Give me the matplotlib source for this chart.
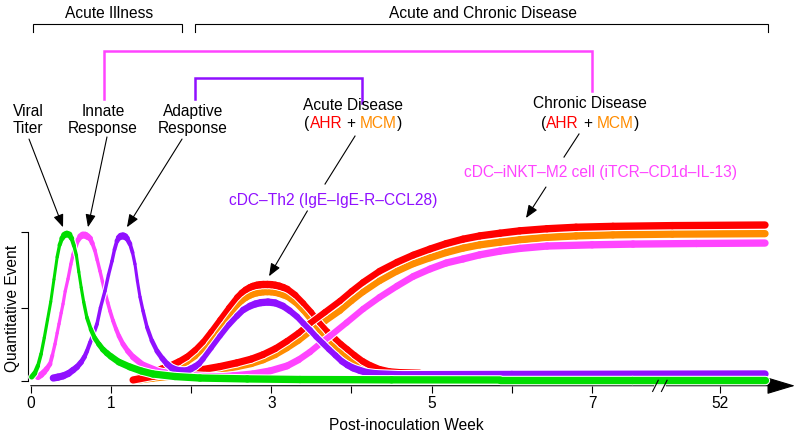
import numpy as np
import matplotlib
matplotlib.use('Agg')
import matplotlib.pyplot as plt
from matplotlib.collections import LineCollection

plt.rcParams['font.family'] = ['Liberation Sans', 'DejaVu Sans']
FS = 11.2

# axis positions (weeks, with 52 placed after the break)
tick_pos = [0, 1, 2, 3, 4, 5, 6, 7, 8.6]
tick_lab = ['0', '1', '', '3', '', '5', '', '7', '52']
ytick_pos = [0, 0.486, 1]
break_pos = [7.79, 7.90]

# curves
green_x = [0.012, 0.05, 0.09, 0.13, 0.17, 0.21, 0.25, 0.29, 0.33, 0.36, 0.39, 0.42, 0.45,
           0.48, 0.51, 0.54, 0.57, 0.60, 0.63, 0.66, 0.70, 0.75, 0.80, 0.85, 0.90, 0.95,
           1.0, 1.1, 1.238, 1.38, 1.525, 1.8, 2.111, 2.7, 3.358, 4.5, 5.852, 7.5, 9.156]
green_y = [0.025, 0.05, 0.1, 0.18, 0.29, 0.41, 0.53, 0.68, 0.83, 0.91, 0.955, 0.978, 0.985,
           0.98, 0.955, 0.905, 0.84, 0.73, 0.625, 0.53, 0.425, 0.345, 0.285, 0.245, 0.21,
           0.185, 0.163, 0.125, 0.092, 0.065, 0.045, 0.028, 0.018, 0.012, 0.008, 0.006,
           0.005, 0.005, 0.005]

magenta_x = [0.091, 0.13, 0.166, 0.2, 0.241, 0.27, 0.303, 0.33, 0.353, 0.38, 0.403, 0.43,
             0.465, 0.5, 0.527, 0.56, 0.59, 0.62, 0.65, 0.68, 0.71, 0.74, 0.77, 0.80, 0.83,
             0.864, 0.895, 0.926, 0.96, 0.989, 1.025, 1.064, 1.1, 1.151, 1.21, 1.276, 1.4,
             1.612, 1.862, 2.174, 2.4, 2.524, 2.772, 2.98, 3.196, 3.34, 3.483, 3.6, 3.733,
             3.94, 4.145, 4.35, 4.567, 4.77, 4.98, 5.18, 5.39, 5.6, 5.852, 6.1, 6.438, 7.0,
             7.51, 8.3, 9.156]
magenta_y = [0.025, 0.04, 0.058, 0.08, 0.112, 0.17, 0.246, 0.32, 0.381, 0.455, 0.515, 0.60,
             0.683, 0.78, 0.844, 0.90, 0.944, 0.968, 0.978, 0.977, 0.967, 0.955, 0.92, 0.875,
             0.81, 0.736, 0.665, 0.595, 0.525, 0.468, 0.405, 0.347, 0.30, 0.246, 0.20, 0.159,
             0.105, 0.058, 0.038, 0.028, 0.027, 0.032, 0.045, 0.065, 0.099, 0.14, 0.193,
             0.245, 0.30, 0.39, 0.481, 0.56, 0.635, 0.70, 0.75, 0.79, 0.817, 0.845, 0.87,
             0.888, 0.904, 0.912, 0.917, 0.921, 0.924]

purple_x = [0.282, 0.34, 0.403, 0.47, 0.53, 0.577, 0.63, 0.67, 0.702, 0.74, 0.78, 0.827,
            0.87, 0.926, 0.97, 1.014, 1.045, 1.076, 1.1, 1.125, 1.151, 1.175, 1.2, 1.238,
            1.27, 1.3, 1.33, 1.363, 1.4, 1.45, 1.51, 1.575, 1.64, 1.7, 1.76, 1.825, 1.89,
            1.949, 2.0, 2.05, 2.1, 2.148, 2.25, 2.36, 2.47, 2.572, 2.65, 2.734, 2.8, 2.87,
            2.959, 3.05, 3.146, 3.23, 3.321, 3.4, 3.483, 3.56, 3.645, 3.72, 3.8, 3.88, 3.95,
            4.02, 4.1, 4.19, 4.3, 4.6, 6.0, 9.156]
purple_y = [0.018, 0.024, 0.032, 0.048, 0.072, 0.092, 0.125, 0.16, 0.199, 0.255, 0.31,
            0.381, 0.49, 0.602, 0.71, 0.803, 0.88, 0.938, 0.96, 0.97, 0.972, 0.968, 0.955,
            0.918, 0.86, 0.783, 0.67, 0.562, 0.47, 0.36, 0.27, 0.199, 0.15, 0.112, 0.085,
            0.07, 0.065, 0.067, 0.08, 0.095, 0.115, 0.146, 0.22, 0.30, 0.375, 0.434, 0.475,
            0.501, 0.515, 0.524, 0.528, 0.522, 0.501, 0.47, 0.43, 0.385, 0.34, 0.295, 0.25,
            0.21, 0.17, 0.13, 0.105, 0.085, 0.07, 0.055, 0.047, 0.04, 0.042, 0.045]

acute_x = [1.277, 1.4, 1.525, 1.63, 1.737, 1.85, 1.95, 2.05, 2.149, 2.25, 2.36, 2.47, 2.573,
           2.63, 2.68, 2.73, 2.77, 2.82, 2.86, 2.9, 2.95, 3.0, 3.05, 3.1, 3.15, 3.2, 3.3, 3.4,
           3.5, 3.6, 3.7, 3.8, 3.87, 3.95, 4.04, 4.14, 4.24, 4.35, 4.47, 4.6, 4.85]
red_acute_y = [0.005, 0.03, 0.058, 0.078, 0.099, 0.128, 0.16, 0.205, 0.26, 0.33, 0.41, 0.49,
               0.56, 0.59, 0.61, 0.625, 0.634, 0.641, 0.644, 0.646, 0.646, 0.645, 0.641,
               0.635, 0.626, 0.615, 0.575, 0.52, 0.46, 0.39, 0.33, 0.28, 0.245, 0.21, 0.17,
               0.13, 0.1, 0.075, 0.06, 0.054, 0.05]
orange_acute_y = [0.0, 0.02, 0.04, 0.058, 0.075, 0.1, 0.128, 0.165, 0.215, 0.28, 0.355,
                  0.435, 0.505, 0.535, 0.556, 0.572, 0.582, 0.59, 0.594, 0.597, 0.598, 0.597,
                  0.593, 0.586, 0.576, 0.565, 0.525, 0.47, 0.405, 0.34, 0.28, 0.23, 0.195,
                  0.165, 0.125, 0.09, 0.068, 0.055, 0.05, 0.047, 0.046]

chronic_x = [1.277, 1.525, 1.737, 1.95, 2.149, 2.36, 2.573, 2.75, 2.897, 3.05, 3.196, 3.34,
             3.483, 3.67, 3.857, 4.0, 4.143, 4.35, 4.567, 4.77, 4.979, 5.18, 5.39, 5.6,
             5.852, 6.1, 6.438, 6.8, 7.26, 8.0, 9.156]
red_chronic_y = [0.005, 0.03, 0.048, 0.062, 0.075, 0.095, 0.12, 0.145, 0.175, 0.215, 0.265,
                 0.32, 0.385, 0.46, 0.535, 0.60, 0.66, 0.735, 0.795, 0.843, 0.884, 0.92,
                 0.95, 0.972, 0.99, 1.006, 1.02, 1.03, 1.036, 1.041, 1.045]
orange_chronic_y = [0.0, 0.018, 0.03, 0.045, 0.058, 0.075, 0.095, 0.115, 0.14, 0.175, 0.22,
                    0.27, 0.33, 0.40, 0.47, 0.535, 0.595, 0.67, 0.735, 0.785, 0.825, 0.86,
                    0.89, 0.912, 0.93, 0.946, 0.962, 0.972, 0.979, 0.984, 0.987]

GREEN = '#00dd00'
RED = '#ff0000'
ORANGE = '#ff8c00'
MAGENTA = '#ff44ff'
PURPLE = '#9010ff'

fig = plt.figure(figsize=(8, 4.35), dpi=100)
ax = fig.add_axes([0.035, 0.111, 0.9525, 0.3648])
ax.set_xlim(-0.0337, 9.468)
ax.set_ylim(-0.0336, 1.0315)


def pen_curve(xs, ys, color, z, wmin=1.6, wmax=5.3):
    # pen-like stroke: thin where steep, thick where flat
    xs = np.asarray(xs, float)
    ys = np.asarray(ys, float)
    pts = ax.transData.transform(np.column_stack([xs, ys]))
    d = np.diff(pts, axis=0)
    c = np.abs(d[:, 0]) / np.hypot(d[:, 0], d[:, 1])
    w = wmin + (wmax - wmin) * c
    w = np.convolve(np.r_[w[0], w, w[-1]], [0.25, 0.5, 0.25], mode='valid')
    segs = np.stack([np.column_stack([xs[:-1], ys[:-1]]),
                     np.column_stack([xs[1:], ys[1:]])], axis=1)
    for lw, col, dz in [(w + 1.5, 'white', 0), (w, color, 0.1)]:
        lc = LineCollection(segs, linewidths=lw, colors=col, capstyle='round', zorder=z + dz)
        lc.set_clip_on(False)
        ax.add_collection(lc)


pen_curve(chronic_x, orange_chronic_y, ORANGE, 2)
pen_curve(acute_x, orange_acute_y, ORANGE, 3)
pen_curve(acute_x, red_acute_y, RED, 4)
pen_curve(chronic_x, red_chronic_y, RED, 5)
pen_curve(magenta_x, magenta_y, MAGENTA, 6)
pen_curve(purple_x, purple_y, PURPLE, 7)
pen_curve(green_x, green_y, GREEN, 8)

# axes
for s in ['top', 'right', 'bottom']:
    ax.spines[s].set_visible(False)
ax.spines['left'].set_bounds(0, 1)
ax.spines['left'].set_linewidth(0.8)
ax.set_xticks(tick_pos, tick_lab)
ax.set_yticks(ytick_pos, [])
ax.tick_params(axis='x', length=5, width=0.8, pad=2, labelsize=FS)
ax.tick_params(axis='y', length=5, width=0.8)
ax.annotate('', xy=(9.53, 0), xycoords=('data', 'axes fraction'),
            xytext=(0, 0), textcoords=('data', 'axes fraction'),
            arrowprops=dict(arrowstyle='-|>,head_length=1.0,head_width=0.3',
                            mutation_scale=18, lw=0.8, color='black',
                            shrinkA=0, shrinkB=0),
            annotation_clip=False)
ax.plot(break_pos, [-0.0336, -0.0336], color='white', lw=2, clip_on=False, zorder=20)
for b in break_pos:
    ax.plot([b - 0.035, b + 0.035], [-0.072, 0.003], color='black', lw=0.8,
            clip_on=False, zorder=21)

ax.text(4.68, -0.292, 'Post-inoculation Week', fontsize=FS, ha='center', va='center')
ax.text(-0.233, 0.495, 'Quantitative Event', fontsize=FS, ha='center', va='center',
        rotation=90)


def bracket(x1, x2, yh, yl1, yl2, color, lw):
    ax.plot([x1, x1, x2, x2], [yl1, yh, yh, yl2], color=color, lw=lw,
            clip_on=False, solid_joinstyle='miter')


bracket(0.025, 1.887, 2.394, 2.34, 2.34, 'black', 0.8)
bracket(2.049, 9.193, 2.394, 2.34, 2.34, 'black', 0.8)
bracket(0.914, 6.995, 2.215, 1.891, 1.946, MAGENTA, 1.8)
bracket(2.049, 4.127, 2.031, 1.891, 1.866, PURPLE, 1.8)

ax.text(0.977, 2.474, 'Acute Illness', fontsize=FS, ha='center', va='center')
ax.text(5.64, 2.474, 'Acute and Chronic Disease', fontsize=FS, ha='center', va='center')
ax.text(-0.034, 1.756, 'Viral\nTiter', fontsize=FS, ha='center', va='center', linespacing=1.1)
ax.text(0.901, 1.756, 'Innate\nResponse', fontsize=FS, ha='center', va='center', linespacing=1.1)
ax.text(2.024, 1.756, 'Adaptive\nResponse', fontsize=FS, ha='center', va='center', linespacing=1.1)
ax.text(4.02, 1.856, 'Acute Disease', fontsize=FS, ha='center', va='center')
ax.text(6.974, 1.870, 'Chronic Disease', fontsize=FS, ha='center', va='center')
ax.text(3.769, 1.219, 'cDC–Th2 (IgE–IgE-R–CCL28)', fontsize=FS, ha='center', va='center',
        color=PURPLE)
ax.text(7.099, 1.401, 'cDC–iNKT–M2 cell (iTCR–CD1d–IL-13)', fontsize=FS, ha='center',
        va='center', color=MAGENTA)

renderer = fig.canvas.get_renderer()
px_unit = ax.transData.transform((1, 0))[0] - ax.transData.transform((0, 0))[0]
gap = 3.1


def multicolor(x, y, parts):
    arts = [ax.text(x, y, parts[0][0], color=parts[0][1], fontsize=FS, ha='left', va='center')]
    for s, c in parts[1:]:
        g = gap if s in ('+', 'MCM') else 0
        arts.append(ax.annotate(s, xy=(1, 0), xycoords=arts[-1], xytext=(g, 0),
                                textcoords='offset points', ha='left', va='bottom',
                                color=c, fontsize=FS))
    w = sum(a.get_window_extent(renderer).width for a in arts) + 2 * gap * 100 / 72
    arts[0].set_x(x - w / 2 / px_unit)


parts = [('(', 'black'), ('AHR', RED), ('+', 'black'), ('MCM', ORANGE), (')', 'black')]
multicolor(4.02, 1.736, parts)
multicolor(6.974, 1.736, parts)

arrow = dict(arrowstyle='-|>,head_length=0.55,head_width=0.22', mutation_scale=14,
             lw=0.8, color='black', shrinkA=0, shrinkB=0)
for start, tip in [((-0.021, 1.622), (0.403, 1.03)),
                   ((0.951, 1.636), (0.714, 1.03)),
                   ((1.887, 1.622), (1.2, 1.03)),
                   ((3.45, 1.14), (2.972, 0.701)),
                   ((6.425, 1.30), (6.176, 1.092))]:
    ax.annotate('', xy=tip, xytext=start, arrowprops=arrow, annotation_clip=False)
ax.plot([4.044, 3.67], [1.642, 1.32], color='black', lw=0.8, clip_on=False)
ax.plot([6.837, 6.65], [1.656, 1.501], color='black', lw=0.8, clip_on=False)

fig.savefig('out.png', dpi=100)
